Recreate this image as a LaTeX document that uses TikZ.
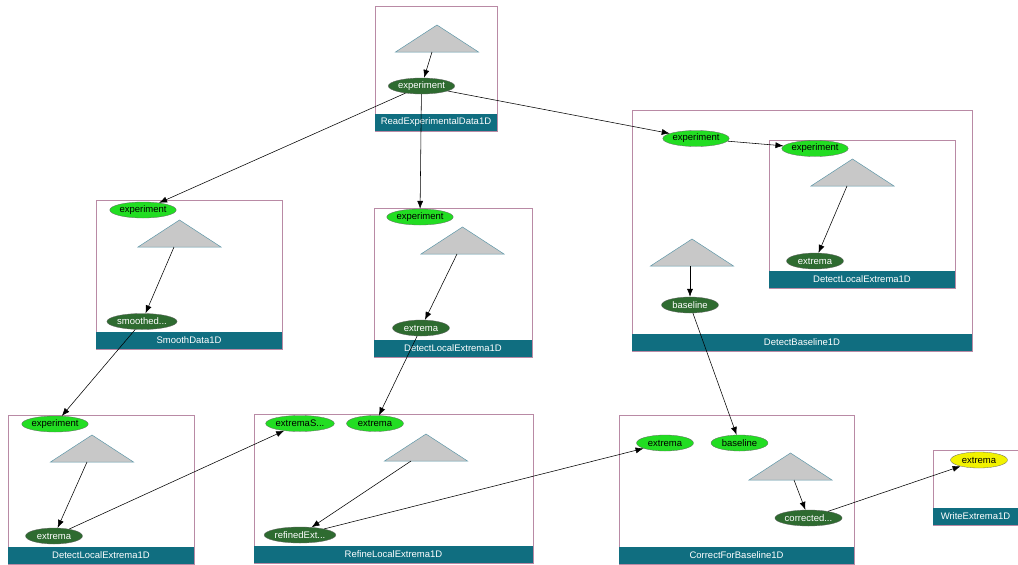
\documentclass[tikz,border=0pt]{standalone}
\usepackage{fontspec}
\setmainfont{Liberation Sans}
\usetikzlibrary{shapes.geometric, arrows.meta}

\definecolor{portin}{HTML}{22DD22}
\definecolor{portout}{HTML}{2E6B30}
\definecolor{portyel}{HTML}{F2F200}
\definecolor{barteal}{HTML}{106E80}
\definecolor{framemauve}{HTML}{B98AA5}
\definecolor{trigray}{HTML}{C8C8C8}
\definecolor{triline}{HTML}{5E97A8}

\tikzset{
	inport/.style={ellipse, draw=black!60, line width=0.3pt, fill=portin, text=black, minimum width=57pt, minimum height=16pt, inner sep=0pt, font=\fontsize{9.5}{11}\selectfont},
	outport/.style={inport, fill=portout, text=white},
	yelport/.style={inport, fill=portyel},
	modframe/.style={draw=framemauve, line width=0.6pt},
	modlabel/.style={text=white, font=\fontsize{9.5}{11}\selectfont, inner sep=0pt},
	tri/.style={draw=triline, fill=trigray, line width=0.5pt},
	flow/.style={line width=0.55pt, color=black, -{Latex[length=8pt, width=6pt]}}
}

% module frame with its title bar
\newcommand{\modbox}[6]{%
	\draw[modframe] (#2,#3) rectangle (#4,#5);
	\fill[barteal] (#2,#5-17.5) rectangle (#4,#5);
	\node[modlabel] (#1) at ({(#2+#4)/2},#5-8.5) {#6};
}
% grey triangle, apex given
\newcommand{\modtri}[2]{%
	\draw[tri] (#1,#2) -- ++(41.5,27) -- ++(-83,0) -- cycle;
}

\begin{document}
\begin{tikzpicture}[x=1pt, y=-1pt]
	\useasboundingbox (0,0) rectangle (1018,565);

	% frames
	\modbox{read}{375}{6}{497}{131}{ReadExperimentalData1D}
	\modbox{smooth}{96}{200}{282}{349}{SmoothData1D}
	\modbox{detect}{374}{208}{532}{357}{DetectLocalExtrema1D}
	\modbox{base}{632}{110}{972}{351}{DetectBaseline1D}
	\modbox{basedet}{769}{140}{955}{288}{DetectLocalExtrema1D}
	\modbox{detecttwo}{8}{415}{194}{564}{DetectLocalExtrema1D}
	\modbox{refine}{254}{414}{533}{563}{RefineLocalExtrema1D}
	\modbox{correct}{619}{415}{854}{564}{CorrectForBaseline1D}
	\modbox{write}{933}{450}{1018}{525}{WriteExtrema1D}

	% triangles
	\modtri{437}{25}
	\modtri{179.5}{220}
	\modtri{462.5}{227}
	\modtri{852.5}{159}
	\modtri{692}{239}
	\modtri{92}{435}
	\modtri{426}{434}
	\modtri{790.5}{453}

	\coordinate (t1) at (432, 52);
	\coordinate (t2) at (174, 247);
	\coordinate (t3) at (457, 254);
	\coordinate (t4) at (847, 186);
	\coordinate (t5) at (690, 266);
	\coordinate (t6) at (87, 462);
	\coordinate (t7) at (411, 461);
	\coordinate (t8) at (794, 480);

	% ports
	\node[outport] (rexp) at (421.5, 86) {experiment};
	\node[inport] (sexp) at (143, 210) {experiment};
	\node[outport] (ssmo) at (142, 321.5) {smoothed...};
	\node[inport] (dexp) at (420, 217) {experiment};
	\node[outport] (dext) at (421, 328) {extrema};
	\node[inport] (bexp) at (696, 138.5) {experiment};
	\node[inport] (biexp) at (815, 148.5) {experiment};
	\node[outport] (biext) at (815, 261) {extrema};
	\node[outport] (bbas) at (690, 305) {baseline};
	\node[inport] (texp) at (55, 424) {experiment};
	\node[outport] (text) at (54, 536) {extrema};
	\node[inport] (rexs) at (300, 423.5) {extremaS...};
	\node[inport] (rext) at (375, 423.5) {extrema};
	\node[outport] (rref) at (300, 535) {refinedExt...};
	\node[inport] (cext) at (665, 443) {extrema};
	\node[inport] (cbas) at (739.5, 443) {baseline};
	\node[outport] (ccor) at (808.5, 518) {corrected...};
	\node[yelport] (wext) at (979, 460) {extrema};

	% Draw the edges inside the modules
	\draw[flow] (t1) -- (rexp);
	\draw[flow] (t2) -- (ssmo);
	\draw[flow] (t3) -- (dext);
	\draw[flow] (t4) -- (biext);
	\draw[flow] (t5) -- (bbas);
	\draw[flow] (t6) -- (text);
	\draw[flow] (t7) -- (rref);
	\draw[flow] (t8) -- (ccor);

	% Draw the edges between modules
	\draw[flow] (rexp) -- (sexp);
	\draw[flow] (rexp) -- (dexp);
	\draw[flow] (rexp) -- (bexp);
	\draw[flow] (bexp) -- (biexp);
	\draw[flow] (ssmo) -- (texp);
	\draw[flow] (text) -- (rexs);
	\draw[flow] (dext) -- (rext);
	\draw[flow] (rref) -- (cext);
	\draw[flow] (bbas) -- (cbas);
	\draw[flow] (ccor) -- (wext);
\end{tikzpicture}
\end{document}
